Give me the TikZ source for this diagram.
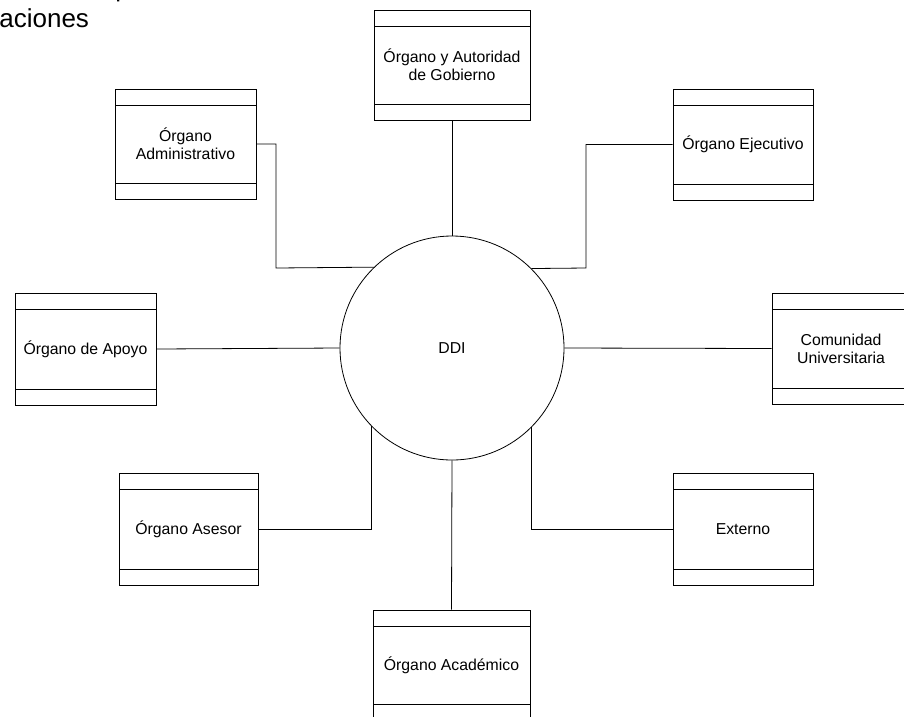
\documentclass[tikz,border=0pt]{standalone}
\usepackage{fontspec}
\setmainfont{Liberation Sans}
\begin{document}
\begin{tikzpicture}[x=1pt,y=-1pt,
  line width=0.8pt,
  entity/.style={draw, rectangle, align=center, inner sep=0pt,
    font=\fontsize{15.8}{18}\selectfont,
    path picture={\draw
      ([yshift=-16pt]path picture bounding box.north west) -- ([yshift=-16pt]path picture bounding box.north east)
      ([yshift=16pt]path picture bounding box.south west) -- ([yshift=16pt]path picture bounding box.south east);}},
  process/.style={draw, circle, inner sep=0pt, minimum size=224pt, font=\fontsize{15.8}{18}\selectfont},
  title/.style={inner sep=0pt, font=\fontsize{26}{30}\selectfont}]
\useasboundingbox (0,0) rectangle (904,716);

% heading lines (the upper one runs off the top edge)
\node[title, anchor=base west] (t0) at (115,-3.2) {p};
\node[title, anchor=base west] (t1) at (-1,27.5) {aciones};

% central process
\node[process] (ddi) at (452,348) {DDI};

% external entities
\node[entity, minimum width=156pt, minimum height=110pt] (gob) at (452,65) {Órgano y Autoridad\\de Gobierno};
\node[entity, minimum width=141pt, minimum height=110pt] (adm) at (185.5,144) {Órgano\\Administrativo};
\node[entity, minimum width=140pt, minimum height=111pt] (eje) at (743,144.5) {Órgano Ejecutivo};
\node[entity, minimum width=141pt, minimum height=112pt] (apo) at (85.5,349) {Órgano de Apoyo};
\node[entity, minimum width=138pt, minimum height=111pt] (com) at (841,348.5) {Comunidad\\Universitaria};
\node[entity, minimum width=139pt, minimum height=112pt] (ase) at (188.5,529) {Órgano Asesor};
\node[entity, minimum width=140pt, minimum height=112pt] (ext) at (743,529) {Externo};
\node[entity, minimum width=157pt, minimum height=110pt] (aca) at (451.5,665) {Órgano Académico};

% bend points of the elbow connectors
\coordinate (kadm) at (276,268);
\coordinate (keje) at (586,268);

% connectors
\draw (gob.south) -- (ddi.north);
\draw (aca.north) -- (ddi.south);
\draw (apo.east) -- (ddi.west);
\draw (ddi.east) -- (com.west);
\draw (adm.east) -| (kadm) -- (ddi.134.4);
\draw (eje.west) -| (keje) -- (ddi.45.6);
\draw (ase.east) -| (ddi.224.6);
\draw (ext.west) -| (ddi.-45.4);
\end{tikzpicture}
\end{document}
